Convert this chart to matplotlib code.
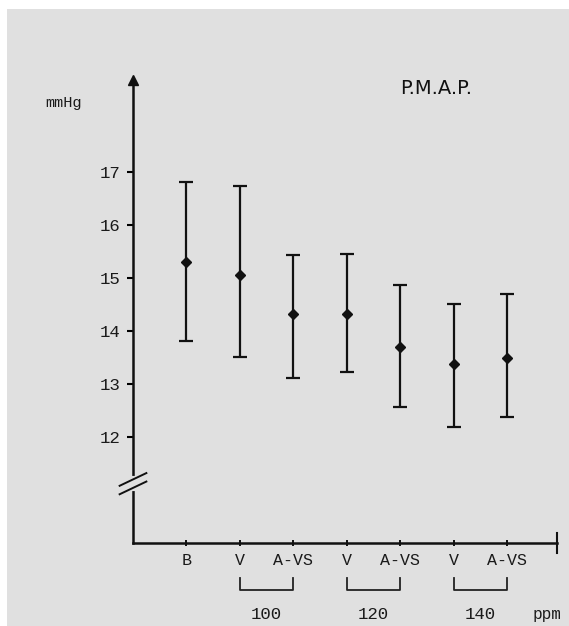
import matplotlib.pyplot as plt
import matplotlib.transforms as mtransforms
from matplotlib.patches import Rectangle
import numpy as np

# data
groups = ['B', 'V', 'A-VS', 'V', 'A-VS', 'V', 'A-VS']
means = [15.30, 15.06, 14.32, 14.32, 13.70, 13.38, 13.49]
upper = [16.81, 16.74, 15.43, 15.45, 14.87, 14.51, 14.70]
lower = [13.81, 13.51, 13.11, 13.23, 12.57, 12.19, 12.38]
yticks = [12, 13, 14, 15, 16, 17]
ppm_labels = ['100', '120', '140']
ppm_pairs = [(1, 2), (3, 4), (5, 6)]

mono = 'Liberation Mono'
bg = '#e0e0e0'
ink = '#1a1a1a'

fig = plt.figure(figsize=(5.69, 6.26), dpi=100)
fig.patch.set_facecolor('white')
# scanned paper area
paper = Rectangle((7 / 569, 0), 1, 1 - 9 / 626, transform=fig.transFigure,
                  facecolor=bg, edgecolor='none', zorder=-10)
fig.patches.append(paper)

ax = fig.add_axes([133 / 569, 1 - 543 / 626, (557 - 133) / 569, (543 - 80) / 626])
ax.set_facecolor('none')
ax.set_zorder(5)

x = np.arange(len(groups))
m = np.array(means)
err = [m - np.array(lower), np.array(upper) - m]
ax.errorbar(x, m, yerr=err, fmt='D', color='#111111', ms=5.5, elinewidth=1.6,
            capsize=5, capthick=1.6, zorder=3)

ax.set_xlim(-1.0, 6.93)
ax.set_ylim(10, 18.74)

for s in ['top', 'right']:
    ax.spines[s].set_visible(False)
for s in ['left', 'bottom']:
    ax.spines[s].set_linewidth(1.8)
    ax.spines[s].set_color('#111111')

ax.set_yticks(yticks)
ax.set_yticklabels([str(v) for v in yticks], fontfamily=mono, fontsize=12.5, color=ink)
ax.tick_params(axis='y', length=4, width=1.5, direction='out', pad=5)
ax.set_xticks(x)
ax.set_xticklabels(groups, fontfamily=mono, fontsize=12, color=ink)
ax.tick_params(axis='x', length=4, width=1.3, direction='inout', pad=5)

# arrow at top of y axis
ax.plot([-1.0], [18.74], marker='^', ms=7, color='#111111', clip_on=False, zorder=4)
# small end mark on x axis
ax.plot([6.93, 6.93], [9.82, 10.18], color='#111111', lw=1.5, clip_on=False)

# axis break
ax.plot([-1.0, -1.0], [11.02, 11.22], color=bg, lw=3, clip_on=False, zorder=4)
for yb in (11.04, 11.2):
    ax.plot([-1.25, -0.75], [yb - 0.12, yb + 0.12], color='#111111', lw=1.4,
            clip_on=False, zorder=5)

# ppm brackets
trans = mtransforms.blended_transform_factory(ax.transData, ax.transAxes)
for (a, b), lab in zip(ppm_pairs, ppm_labels):
    ax.plot([a, a, b, b], [-0.075, -0.102, -0.102, -0.075], color='#222222', lw=1.3,
            transform=trans, clip_on=False)
    ax.text((a + b) / 2, -0.155, lab, transform=trans, ha='center', va='center',
            fontfamily=mono, fontsize=12.5, color=ink)
ax.text(6.75, -0.155, 'ppm', transform=trans, ha='center', va='center',
        fontfamily=mono, fontsize=11.5, color=ink)

fig.text(64 / 569, 1 - 103 / 626, 'mmHg', fontfamily=mono, fontsize=11,
         ha='center', va='center', color=ink)
fig.text(436 / 569, 1 - 88 / 626, 'P.M.A.P.', fontfamily='DejaVu Sans', fontsize=14,
         ha='center', va='center', color='#111111')

fig.savefig('out.png', dpi=100, facecolor=fig.get_facecolor())
